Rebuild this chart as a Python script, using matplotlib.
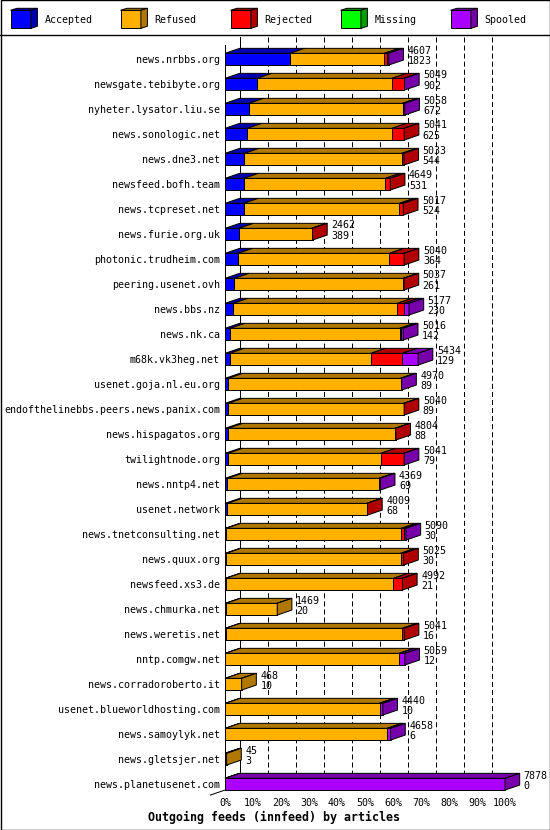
import matplotlib
matplotlib.use('Agg')
import matplotlib.pyplot as plt
from matplotlib.patches import Polygon, Rectangle

# ---------------- data ----------------
feeds = ['news.nrbbs.org', 'newsgate.tebibyte.org', 'nyheter.lysator.liu.se',
         'news.sonologic.net', 'news.dne3.net', 'newsfeed.bofh.team',
         'news.tcpreset.net', 'news.furie.org.uk', 'photonic.trudheim.com',
         'peering.usenet.ovh', 'news.bbs.nz', 'news.nk.ca', 'm68k.vk3heg.net',
         'usenet.goja.nl.eu.org', 'endofthelinebbs.peers.news.panix.com',
         'news.hispagatos.org', 'twilightnode.org', 'news.nntp4.net',
         'usenet.network', 'news.tnetconsulting.net', 'news.quux.org',
         'newsfeed.xs3.de', 'news.chmurka.net', 'news.weretis.net',
         'nntp.comgw.net', 'news.corradoroberto.it', 'usenet.blueworldhosting.com',
         'news.samoylyk.net', 'news.gletsjer.net', 'news.planetusenet.com']
offered = [4607, 5049, 5058, 5041, 5033, 4649, 5017, 2462, 5040, 5037, 5177, 5016,
           5434, 4970, 5040, 4804, 5041, 4369, 4009, 5090, 5025, 4992, 1469, 5041,
           5059, 468, 4440, 4658, 45, 7878]
accepted = [1823, 902, 672, 625, 544, 531, 524, 389, 364, 261, 230, 142, 129, 89, 89,
            88, 79, 69, 68, 30, 30, 21, 20, 16, 12, 10, 10, 6, 3, 0]
refused = [2659, 3792, 4326, 4071, 4429, 3978, 4383, 2048, 4261, 4741, 4617, 4774,
           3975, 4851, 4941, 4691, 4300, 4265, 3926, 4930, 4910, 4716, 1449, 4965,
           4897, 458, 4340, 4562, 42, 0]
rejected = [70, 340, 10, 345, 60, 140, 110, 25, 415, 35, 190, 40, 890, 0, 10, 25, 650,
            0, 15, 65, 85, 255, 0, 60, 0, 0, 0, 0, 0, 0]
missing = [0] * 30
spooled = [55, 15, 50, 0, 0, 0, 0, 0, 0, 0, 140, 60, 440, 30, 0, 0, 12, 35, 0, 65, 0,
           0, 0, 0, 150, 0, 90, 90, 0, 7878]

series_names = ['Accepted', 'Refused', 'Rejected', 'Missing', 'Spooled']
pct_labels = [f'{k * 10}%' for k in range(11)]
title = 'Outgoing feeds (innfeed) by articles'

# ---------------- style ----------------
face_colors = ['#0000FF', '#FFB000', '#FF0000', '#00FF00', '#AA00FF']
dark_colors = ['#0000B0', '#B07800', '#B00000', '#00A000', '#7700AA']
W, H, DPI = 550, 830, 100
MONO = 'DejaVu Sans Mono'
FS = 7.2
LW = 0.72
plt.rcParams['lines.scale_dashes'] = False

fig = plt.figure(figsize=(W / DPI, H / DPI), dpi=DPI)

# ---------------- geometry (pixels) ----------------
AX_L, AX_R = 225, 505
ROW0, ROW_STEP = 59.2, 25.0
n = len(feeds)
top_px = ROW0 - 0.5 * ROW_STEP
bot_px = ROW0 + (n - 0.5) * ROW_STEP
ax = fig.add_axes([AX_L / W, 1 - bot_px / H, (AX_R - AX_L) / W, (bot_px - top_px) / H])
xmax = max(offered)
ax.set_xlim(0, xmax)
ax.set_ylim(n - 0.5, -0.5)
for s in ax.spines.values():
    s.set_visible(False)
ax.patch.set_visible(False)

px_x = xmax / (AX_R - AX_L)
px_y = 1.0 / ROW_STEP
DXp, DYp, HHp = 14.7, 5.0, 5.85
DX, DY, hh = DXp * px_x, DYp * px_y, HHp * px_y

# back grid
ytop = (37 - ROW0) / ROW_STEP
yfloor = (n - 1) + hh - DY
for k in range(10):
    xg = k * xmax / 10 + DX
    ax.plot([xg, xg], [ytop, yfloor], color='black', lw=LW,
            linestyle='-' if k == 0 else (0, (3.6, 2.2)), zorder=1, clip_on=False)

# front axis
ax.plot([0, 0], [(45 - ROW0) / ROW_STEP, n - 1 + hh], color='black', lw=LW, zorder=5, clip_on=False)
ax.plot([0, -DX], [n - 1 + hh, n - 1 + hh + DY], color='black', lw=LW, zorder=5, clip_on=False)

# bars
series = [accepted, refused, rejected, missing, spooled]
for i in range(n):
    left = 0
    last = None
    for j, vals in enumerate(series):
        v = vals[i]
        x0, x1 = left, left + v
        ax.barh(i, v, left=x0, height=2 * hh, color=face_colors[j], edgecolor='black',
                linewidth=LW, zorder=3, clip_on=False)
        ax.add_patch(Polygon([(x0, i - hh), (x1, i - hh), (x1 + DX, i - hh - DY),
                              (x0 + DX, i - hh - DY)], closed=True,
                             facecolor=dark_colors[j], edgecolor='black', lw=LW,
                             zorder=3, clip_on=False))
        if v > 0:
            last = j
        left = x1
    if last is not None:
        ax.add_patch(Polygon([(left, i - hh), (left + DX, i - hh - DY),
                              (left + DX, i + hh - DY), (left, i + hh)], closed=True,
                             facecolor=dark_colors[last], edgecolor='black', lw=LW,
                             zorder=4, clip_on=False))
    ax.annotate(str(offered[i]), xy=(left, i), xytext=((DXp + 4) * 0.72, 8.7 * 0.72),
                textcoords='offset points', fontsize=FS, family=MONO,
                ha='left', va='center', zorder=6)
    ax.annotate(str(accepted[i]), xy=(left, i), xytext=((DXp + 4) * 0.72, -1.8 * 0.72),
                textcoords='offset points', fontsize=FS, family=MONO,
                ha='left', va='center', zorder=6)

ax.set_xticks([k * xmax / 10 for k in range(11)], pct_labels, fontsize=FS, family=MONO)
ax.set_yticks(range(n), feeds, fontsize=FS, family=MONO)
ax.tick_params(axis='x', length=0, pad=1.2)
ax.tick_params(axis='y', length=0, pad=5 * 0.72)

# ---------------- frame, legend, title ----------------
lax = fig.add_axes([0, 0, 1, 1], zorder=-1)
lax.set_xlim(0, W)
lax.set_ylim(H, 0)
lax.axis('off')
lax.add_patch(Rectangle((0.5, 0.5), W - 1, H - 1, fill=False, edgecolor='black', lw=1.0))
lax.plot([0, W], [35, 35], color='black', lw=1.0)
for j, name in enumerate(series_names):
    x0 = 10.5 + 110 * j
    y0, fw, fh, ldx, ldy = 10.3, 20.4, 18, 6.5, 2
    lax.add_patch(Rectangle((x0, y0), fw, fh, facecolor=face_colors[j], edgecolor='black', lw=LW))
    lax.add_patch(Polygon([(x0, y0), (x0 + fw, y0), (x0 + fw + ldx, y0 - ldy), (x0 + ldx, y0 - ldy)],
                          closed=True, facecolor=dark_colors[j], edgecolor='black', lw=LW))
    lax.add_patch(Polygon([(x0 + fw, y0), (x0 + fw + ldx, y0 - ldy), (x0 + fw + ldx, y0 + fh - ldy),
                           (x0 + fw, y0 + fh)], closed=True, facecolor=dark_colors[j],
                          edgecolor='black', lw=LW))
    lax.text(x0 + 34, 20, name, fontsize=FS, family=MONO, ha='left', va='center')

fig.text(274.5 / W, 1 - 817 / H, title, fontsize=8.4, family=MONO, weight='bold',
         ha='center', va='center')

fig.savefig('out.png', dpi=DPI)
